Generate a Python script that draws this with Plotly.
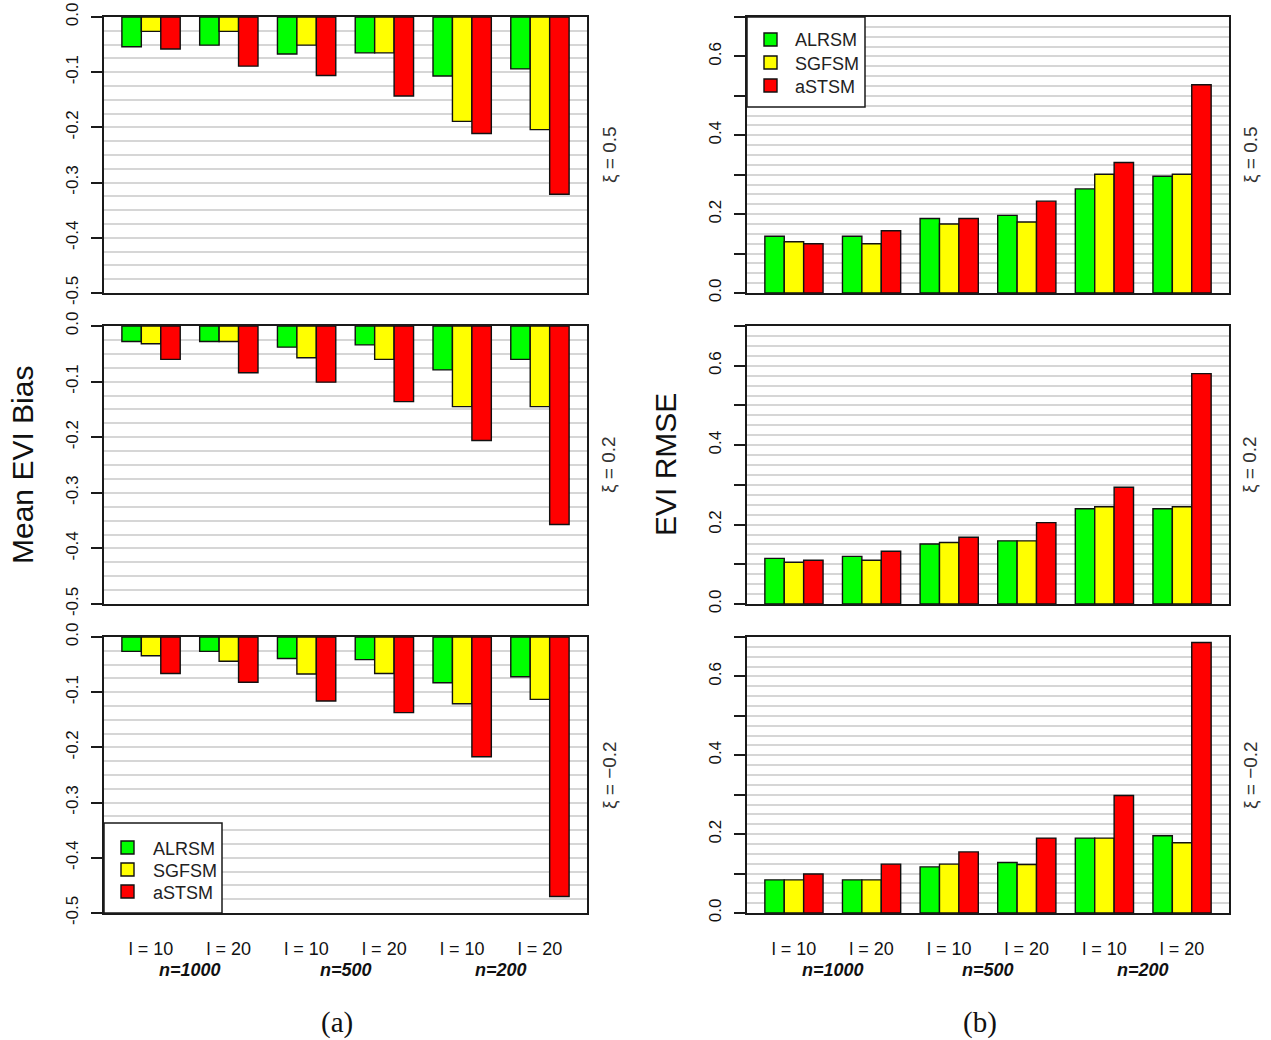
import plotly.graph_objects as go
from plotly.subplots import make_subplots

# ---- data -------------------------------------------------------------
methods = ["ALRSM", "SGFSM", "aSTSM"]
method_colors = ["#00ff00", "#ffff00", "#ff0000"]
block_labels = ["l = 10", "l = 20", "l = 10", "l = 20", "l = 10", "l = 20"]
sample_sizes = ["n=1000", "n=500", "n=200"]
xi_labels = ["ξ = 0.5", "ξ = 0.2", "ξ = −0.2"]

# Mean EVI bias, one list per method, six settings each
bias_xi05_alrsm = [-0.054, -0.051, -0.067, -0.065, -0.107, -0.094]
bias_xi05_sgfsm = [-0.026, -0.026, -0.051, -0.065, -0.189, -0.204]
bias_xi05_astsm = [-0.058, -0.089, -0.106, -0.143, -0.211, -0.321]

bias_xi02_alrsm = [-0.028, -0.028, -0.038, -0.034, -0.079, -0.060]
bias_xi02_sgfsm = [-0.032, -0.028, -0.057, -0.060, -0.145, -0.145]
bias_xi02_astsm = [-0.060, -0.084, -0.101, -0.136, -0.206, -0.357]

bias_xim02_alrsm = [-0.026, -0.026, -0.039, -0.041, -0.083, -0.072]
bias_xim02_sgfsm = [-0.034, -0.044, -0.067, -0.066, -0.121, -0.113]
bias_xim02_astsm = [-0.066, -0.082, -0.116, -0.137, -0.217, -0.470]

# EVI RMSE
rmse_xi05_alrsm = [0.144, 0.144, 0.189, 0.197, 0.264, 0.296]
rmse_xi05_sgfsm = [0.130, 0.125, 0.175, 0.180, 0.301, 0.301]
rmse_xi05_astsm = [0.125, 0.158, 0.189, 0.233, 0.331, 0.528]

rmse_xi02_alrsm = [0.115, 0.120, 0.151, 0.159, 0.240, 0.240]
rmse_xi02_sgfsm = [0.105, 0.110, 0.155, 0.159, 0.245, 0.245]
rmse_xi02_astsm = [0.110, 0.133, 0.168, 0.205, 0.294, 0.580]

rmse_xim02_alrsm = [0.084, 0.084, 0.117, 0.128, 0.190, 0.196]
rmse_xim02_sgfsm = [0.084, 0.084, 0.124, 0.123, 0.190, 0.178]
rmse_xim02_astsm = [0.099, 0.124, 0.155, 0.190, 0.298, 0.686]

bias_rows = [
    [bias_xi05_alrsm, bias_xi05_sgfsm, bias_xi05_astsm],
    [bias_xi02_alrsm, bias_xi02_sgfsm, bias_xi02_astsm],
    [bias_xim02_alrsm, bias_xim02_sgfsm, bias_xim02_astsm],
]
rmse_rows = [
    [rmse_xi05_alrsm, rmse_xi05_sgfsm, rmse_xi05_astsm],
    [rmse_xi02_alrsm, rmse_xi02_sgfsm, rmse_xi02_astsm],
    [rmse_xim02_alrsm, rmse_xim02_sgfsm, rmse_xim02_astsm],
]

# ---- geometry (pixels in a 1271 x 1040 page) ---------------------------
W, H = 1271, 1040
col_px = [(104, 587), (747, 1229)]
row_px = [(17, 293), (326, 604), (637, 913)]


def px_x(x):
    return x / W


def px_y(y):
    return 1 - y / H


def xdom(c):
    return [px_x(col_px[c][0]), px_x(col_px[c][1])]


def ydom(r):
    return [px_y(row_px[r][1]), px_y(row_px[r][0])]


FONT = "Liberation Sans, Arial, sans-serif"
INK = "#111111"
GRID = "#d6d6d6"
x_pos = list(range(len(block_labels)))

fig = make_subplots(rows=3, cols=2)

for r in range(3):
    for c, rows in enumerate([bias_rows, rmse_rows]):
        for m, (name, colr) in enumerate(zip(methods, method_colors)):
            fig.add_trace(
                go.Bar(
                    x=x_pos,
                    y=rows[r][m],
                    name=name,
                    marker=dict(color=colr, line=dict(color=INK, width=1.4)),
                    showlegend=False,
                    hoverinfo="skip",
                ),
                row=r + 1,
                col=c + 1,
            )

fig.update_layout(
    width=W,
    height=H,
    margin=dict(l=0, r=0, t=0, b=0, autoexpand=False),
    paper_bgcolor="white",
    plot_bgcolor="white",
    barmode="group",
    bargap=0.25,
    bargroupgap=0,
    showlegend=False,
    font=dict(family=FONT, color=INK, size=17),
)

axis_n = 0
for r in range(3):
    for c in range(2):
        axis_n += 1
        sfx = "" if axis_n == 1 else str(axis_n)
        bottom = r == 2
        fig.layout["xaxis" + sfx].update(
            domain=xdom(c),
            range=[-0.605, 5.605],
            automargin=False,
            showline=True,
            mirror=True,
            linecolor="#1a1a1a",
            linewidth=1.5,
            showgrid=False,
            zeroline=False,
            ticks="",
            tickmode="array",
            tickvals=x_pos,
            ticktext=block_labels,
            showticklabels=bottom,
            tickfont=dict(size=18, family=FONT, color=INK),
            ticklabelstandoff=19,
        )
        if c == 0:
            yvals = [0, -0.1, -0.2, -0.3, -0.4, -0.5]
            ytext = ["0.0", "-0.1", "-0.2", "-0.3", "-0.4", "-0.5"]
            yrange = [-0.5, 0]
        else:
            yvals = [0, 0.1, 0.2, 0.3, 0.4, 0.5, 0.6, 0.7]
            ytext = ["0.0", "", "0.2", "", "0.4", "", "0.6", ""]
            yrange = [0, 0.7]
        fig.layout["yaxis" + sfx].update(
            domain=ydom(r),
            range=yrange,
            automargin=False,
            showline=True,
            mirror=True,
            linecolor="#1a1a1a",
            linewidth=1.5,
            zeroline=False,
            ticks="outside",
            ticklen=11,
            tickwidth=1.5,
            tickcolor="#1a1a1a",
            tickmode="array",
            tickvals=yvals,
            ticktext=ytext,
            tickangle=-90,
            tickfont=dict(size=17, family=FONT, color=INK),
            ticklabelstandoff=6,
            showgrid=True,
            gridcolor=GRID,
            gridwidth=1.5,
            minor=dict(
                tickmode="linear",
                tick0=0,
                dtick=0.025,
                showgrid=True,
                gridcolor=GRID,
                gridwidth=1.5,
                ticks="",
            ),
            layer="below traces",
        )

shapes = []
annotations = []


def note(text, x, y, size, color=INK, family=FONT, angle=0, xanchor="center", xref="paper"):
    annotations.append(dict(text=text, x=x, y=y, xref=xref, yref="paper",
                            xanchor=xanchor, yanchor="middle", textangle=angle,
                            showarrow=False, font=dict(size=size, family=family, color=color)))


# legend boxes: (box left, box top, box right, box bottom, key x, text x, row centres)
legend_boxes = [
    (747, 17, 865, 107, 770.5, 793, [39.5, 62.5, 85.5]),
    (104, 823, 222, 913, 127.5, 151, [847.5, 869.5, 891.5]),
]
for bx0, by0, bx1, by1, kx, tx, rows_y in legend_boxes:
    shapes.append(dict(type="rect", xref="paper", yref="paper",
                       x0=px_x(bx0), x1=px_x(bx1), y0=px_y(by1), y1=px_y(by0),
                       fillcolor="white", line=dict(color="#1a1a1a", width=1.5), layer="above"))
    for name, colr, yc in zip(methods, method_colors, rows_y):
        shapes.append(dict(type="rect", xref="paper", yref="paper",
                           x0=px_x(kx - 6.5), x1=px_x(kx + 6.5), y0=px_y(yc + 6.5), y1=px_y(yc - 6.5),
                           fillcolor=colr, line=dict(color=INK, width=1.4), layer="above"))
        note(name, px_x(tx), px_y(yc + 1), 18, color="#222222", xanchor="left")

# y-axis titles
note("Mean EVI Bias", px_x(23), px_y(465), 30, angle=-90)
note("EVI RMSE", px_x(666), px_y(465), 30, angle=-90)

# xi labels on the right of each panel
for r in range(3):
    yc = px_y((row_px[r][0] + row_px[r][1]) / 2)
    for xc in (609, 1250):
        note(xi_labels[r], px_x(xc), yc, 19, color="#333333", angle=-90)

# sample-size labels under each pair of groups
for ax in ("x5", "x6"):
    for k, lab in enumerate(sample_sizes):
        note("<b><i>" + lab + "</i></b>", 2 * k + 0.5, px_y(970), 18, xref=ax)

# panel captions
for lab, xc in (("(a)", 337), ("(b)", 980)):
    note(lab, px_x(xc), px_y(1022), 29, family="Liberation Serif, serif")

fig.update_layout(shapes=shapes, annotations=annotations)

fig.write_html("out.html")
